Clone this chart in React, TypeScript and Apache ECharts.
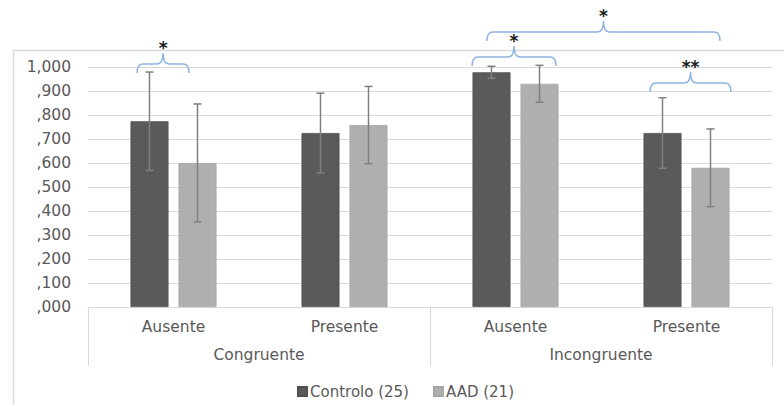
import React, { useEffect, useRef } from "react";
import * as echarts from "echarts";

// Conditions (inner axis) and their groups (outer axis)
const categories = ["Ausente", "Presente", "Ausente", "Presente"];
const groups = ["Congruente", "Incongruente"];

// Group means and error half-widths
const controloName = "Controlo (25)";
const aadName = "AAD (21)";
const controloMeans = [0.774, 0.725, 0.978, 0.725];
const controloErr = [0.205, 0.166, 0.025, 0.147];
const aadMeans = [0.6, 0.758, 0.93, 0.58];
const aadErr = [0.246, 0.161, 0.077, 0.162];

// Significance brackets: [startCategory, startFraction, endCategory, endFraction]
const bracketSpans = [
  [0, -0.213, 0, 0.091],
  [2, -0.254, 2, 0.237],
  [2, -0.167, 3, 0.196],
  [3, -0.213, 3, 0.26],
];
const bracketLevels = [1.0125, 1.042, 1.146, 0.933];
const bracketLabels = ["*", "*", "*", "**"];

const FONT = "DejaVu Sans";
const TEXT = "#595959";
const GRID_LINE = "#d9d9d9";
const BAR_WIDTH = 38;
const BAR_GAP_PX = 10;
const BAR_OFFSET = (BAR_WIDTH + BAR_GAP_PX) / 2;

const fmt = (v: number) => {
  const s = v.toFixed(3);
  return s.startsWith("1") ? "1," + s.slice(2) : "," + s.slice(2);
};

function errorSeries(name: string, means: number[], errs: number[], offset: number) {
  return {
    name,
    type: "custom",
    xAxisIndex: 0,
    yAxisIndex: 0,
    z: 5,
    clip: false,
    encode: { x: 0, y: [1, 2] },
    data: means.map((m, i) => [i, m - errs[i], m + errs[i]]),
    renderItem: (params: any, api: any) => {
      const lo = api.coord([api.value(0), api.value(1)]);
      const hi = api.coord([api.value(0), api.value(2)]);
      const x = lo[0] + offset;
      const cap = 4;
      const style = { stroke: "#808080", lineWidth: 1.5 };
      return {
        type: "group",
        children: [
          { type: "line", shape: { x1: x, y1: lo[1], x2: x, y2: hi[1] }, style },
          { type: "line", shape: { x1: x - cap, y1: hi[1], x2: x + cap, y2: hi[1] }, style },
          { type: "line", shape: { x1: x - cap, y1: lo[1], x2: x + cap, y2: lo[1] }, style },
        ],
      };
    },
  };
}

export default function App() {
  const ref = useRef<HTMLDivElement>(null);

  useEffect(() => {
    if (!ref.current) return;
    const chart = echarts.init(ref.current, undefined, { renderer: "svg" });

    const option: any = {
      animation: false,
      backgroundColor: "#ffffff",
      textStyle: { fontFamily: FONT },
      grid: { left: 88, right: 12, top: 67, bottom: 98 },
      legend: {
        data: [controloName, aadName],
        left: 292,
        top: 379,
        itemWidth: 9,
        itemHeight: 9,
        itemGap: 24,
        icon: "rect",
        textStyle: { color: TEXT, fontSize: 15, fontFamily: FONT, padding: [0, 0, 0, -2] },
      },
      graphic: [
        {
          type: "rect",
          left: 11,
          top: 48,
          shape: { width: 800, height: 400 },
          style: { fill: "none", stroke: GRID_LINE, lineWidth: 1.5 },
          silent: true,
          z: -1,
        },
      ],
      xAxis: [
        {
          type: "category",
          data: categories,
          position: "bottom",
          axisLine: { show: true, lineStyle: { color: GRID_LINE, width: 1 } },
          axisTick: { show: false },
          axisLabel: { color: TEXT, fontSize: 15.5, fontFamily: FONT, margin: 12, interval: 0 },
        },
        {
          type: "category",
          data: groups,
          position: "bottom",
          axisLine: { show: false },
          axisTick: { show: true, length: 59, interval: 0, lineStyle: { color: GRID_LINE, width: 1 } },
          axisLabel: { color: TEXT, fontSize: 15.5, fontFamily: FONT, margin: 40, interval: 0 },
        },
      ],
      yAxis: {
        type: "value",
        min: 0,
        max: 1,
        interval: 0.1,
        axisLine: { show: false },
        axisTick: { show: false },
        splitLine: { lineStyle: { color: GRID_LINE, width: 1 } },
        axisLabel: { color: TEXT, fontSize: 15.5, fontFamily: FONT, margin: 17, formatter: fmt },
      },
      series: [
        {
          name: controloName,
          type: "bar",
          data: controloMeans,
          barWidth: BAR_WIDTH,
          barGap: `${(BAR_GAP_PX / BAR_WIDTH) * 100}%`,
          itemStyle: { color: "#5a5a5a", borderColor: "#505050", borderWidth: 0.8 },
        },
        {
          name: aadName,
          type: "bar",
          data: aadMeans,
          barWidth: BAR_WIDTH,
          barGap: `${(BAR_GAP_PX / BAR_WIDTH) * 100}%`,
          itemStyle: { color: "#afafaf", borderColor: "#a6a6a6", borderWidth: 0.8 },
        },
        errorSeries("controlo-err", controloMeans, controloErr, -BAR_OFFSET),
        errorSeries("aad-err", aadMeans, aadErr, BAR_OFFSET),
        {
          name: "brackets",
          type: "custom",
          xAxisIndex: 0,
          yAxisIndex: 0,
          z: 6,
          clip: false,
          encode: { x: 0, y: 4 },
          data: bracketSpans.map((s, i) => [...s, bracketLevels[i]]),
          renderItem: (params: any, api: any) => {
            const band = api.size([1, 0])[0];
            const p0 = api.coord([api.value(0), api.value(4)]);
            const p1 = api.coord([api.value(2), api.value(4)]);
            const x0 = p0[0] + api.value(1) * band;
            const x1 = p1[0] + api.value(3) * band;
            const y = p0[1];
            const xc = (x0 + x1) / 2;
            const r = 6;
            const drop = 9;
            const tip = 11;
            const d =
              `M${x0},${y + drop} Q${x0},${y} ${x0 + r},${y} L${xc - r},${y} ` +
              `Q${xc},${y} ${xc},${y - tip} Q${xc},${y} ${xc + r},${y} ` +
              `L${x1 - r},${y} Q${x1},${y} ${x1},${y + drop}`;
            return {
              type: "group",
              children: [
                {
                  type: "path",
                  shape: { pathData: d },
                  style: { fill: "none", stroke: "#8db4e2", lineWidth: 1.5 },
                },
                {
                  type: "text",
                  x: xc,
                  y: y - tip - 5,
                  style: {
                    text: bracketLabels[params.dataIndex],
                    fill: "#1a1a1a",
                    font: `bold 17px "${FONT}"`,
                    align: "center",
                    verticalAlign: "middle",
                  },
                },
              ],
            };
          },
        },
      ],
    };

    chart.setOption(option);
    return () => chart.dispose();
  }, []);

  return (
    <div
      ref={ref}
      style={{ position: "fixed", left: 0, top: 0, width: 784, height: 405 }}
    />
  );
}
